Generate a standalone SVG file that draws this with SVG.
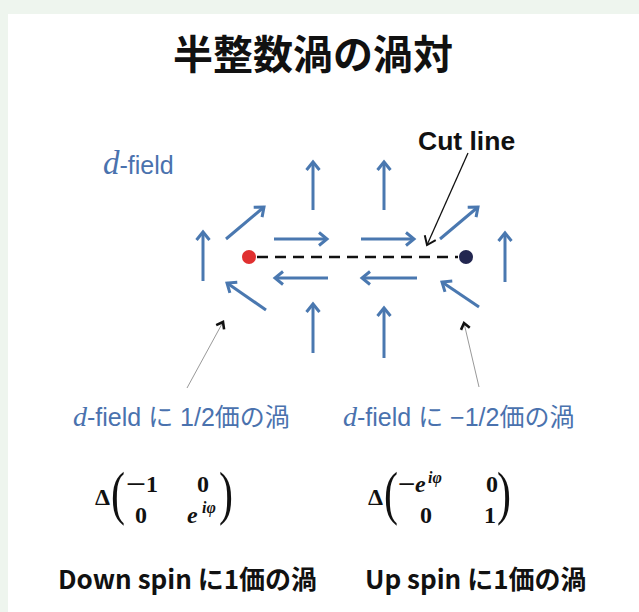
<svg xmlns="http://www.w3.org/2000/svg" width="639" height="612" viewBox="0 0 639 612">
<defs>
<style>
.fa{fill:none;stroke:#4a78b0;stroke-width:3;stroke-linecap:butt;marker-end:url(#ab)}
.bl{fill:#4a72ae;font-family:"Liberation Sans","Noto Sans CJK JP",sans-serif;font-size:25px}
.di{font-family:"Liberation Serif",serif;font-style:italic}
.jp{font-family:"Noto Sans CJK JP",sans-serif}
.bk{fill:#111;font-family:"Noto Sans CJK JP",sans-serif;font-weight:700;font-size:26px}
.m{fill:#111;font-family:"Liberation Serif",serif;font-weight:700;font-size:24px}
.mi{font-style:italic}
.sup{fill:#111;font-family:"Liberation Serif",serif;font-weight:700;font-style:italic;font-size:16px}
.par{fill:#111;font-family:"Liberation Serif",serif;font-size:42px}
</style>
<marker id="ab" markerWidth="16" markerHeight="16" refX="12" refY="8" orient="auto" markerUnits="userSpaceOnUse" overflow="visible">
<path d="M4,1.5 L12,8 L4,14.5" fill="none" stroke="#4a78b0" stroke-width="3"/>
</marker>
<marker id="ak" markerWidth="16" markerHeight="16" refX="12" refY="8" orient="auto" markerUnits="userSpaceOnUse" overflow="visible">
<path d="M4,2 L12,8 L4,14" fill="none" stroke="#111" stroke-width="2"/>
</marker>
<marker id="ak2" markerWidth="12" markerHeight="12" refX="9" refY="6" orient="auto" markerUnits="userSpaceOnUse" overflow="visible">
<path d="M3,1.5 L9,6 L3,10.5" fill="none" stroke="#111" stroke-width="2.6"/>
</marker>
</defs>
<rect x="0" y="0" width="639" height="612" fill="#eef5ee"/>
<rect x="8" y="14" width="631" height="598" fill="#ffffff"/>

<g id="title">
<text x="313" y="69" text-anchor="middle" class="jp" font-weight="700" font-size="40" fill="#111">半整数渦の渦対</text>
</g>

<g id="dfield-label">
<text x="103" y="174" class="bl" font-size="30"><tspan class="di" font-size="33">d</tspan>-field</text>
</g>

<g id="cutline-label">
<text x="418" y="150" font-family="Liberation Sans,sans-serif" font-weight="700" font-size="26.5" fill="#111">Cut line</text>
</g>

<g id="field-arrows">
<line class="fa" x1="313" y1="210" x2="313" y2="162"/>
<line class="fa" x1="384" y1="210" x2="384" y2="162"/>
<line class="fa" x1="226" y1="239" x2="264" y2="207"/>
<line class="fa" x1="203" y1="281" x2="203" y2="232"/>
<line class="fa" x1="274" y1="239" x2="327" y2="239"/>
<line class="fa" x1="361" y1="239" x2="414" y2="239"/>
<line class="fa" x1="328" y1="278" x2="275" y2="278"/>
<line class="fa" x1="417" y1="278" x2="362" y2="278"/>
<line class="fa" x1="266" y1="310" x2="227" y2="283"/>
<line class="fa" x1="479" y1="307" x2="442" y2="282"/>
<line class="fa" x1="440" y1="239" x2="478" y2="207"/>
<line class="fa" x1="313" y1="353" x2="313" y2="304"/>
<line class="fa" x1="384" y1="358" x2="384" y2="308"/>
<line class="fa" x1="505" y1="282" x2="505" y2="233"/>
</g>

<g id="cut">
<line x1="257" y1="257" x2="458" y2="257" stroke="#111" stroke-width="2.5" stroke-dasharray="11,7"/>
</g>

<g id="vortex-plus">
<circle cx="249" cy="257" r="7" fill="#e03030"/>
</g>
<g id="vortex-minus">
<circle cx="466" cy="257" r="7" fill="#222650"/>
</g>

<g id="connectors">
<line x1="468" y1="153" x2="427" y2="245" stroke="#111" stroke-width="1.3" marker-end="url(#ak)"/>
<line x1="187" y1="388" x2="223" y2="322" stroke="#999" stroke-width="1" marker-end="url(#ak2)"/>
<line x1="479" y1="387" x2="464" y2="323" stroke="#999" stroke-width="1" marker-end="url(#ak2)"/>
</g>

<g id="label-left">
<text x="73" y="426" class="bl"><tspan class="di" font-size="28">d</tspan>-field <tspan class="jp">に</tspan> 1/2<tspan class="jp">価の渦</tspan></text>
</g>
<g id="label-right">
<text x="343" y="426" class="bl"><tspan class="di" font-size="28">d</tspan>-field <tspan class="jp">に</tspan> −1/2<tspan class="jp">価の渦</tspan></text>
</g>

<g id="matrix-left">
<text x="95" y="505" class="m">Δ</text>
<text class="par" transform="translate(111,512.6) scale(1,1.4)">(</text>
<text class="m" transform="translate(126,492) scale(1.5,1)">−</text>
<text x="146" y="492" class="m">1</text>
<text x="197" y="492" class="m">0</text>
<text x="135" y="523" class="m">0</text>
<text x="187" y="523" class="m"><tspan class="mi">e</tspan></text>
<text x="202" y="513" class="sup">iφ</text>
<text class="par" transform="translate(219,512.6) scale(1,1.4)">)</text>
</g>

<g id="matrix-right">
<text x="368" y="505" class="m">Δ</text>
<text class="par" transform="translate(384,512.6) scale(1,1.4)">(</text>
<text class="m" transform="translate(398,492) scale(1.3,1)">−</text>
<text x="415" y="492" class="m"><tspan class="mi">e</tspan></text>
<text x="428" y="483" class="sup">iφ</text>
<text x="486" y="492" class="m">0</text>
<text x="420" y="523" class="m">0</text>
<text x="484" y="523" class="m">1</text>
<text class="par" transform="translate(497,512.6) scale(1,1.4)">)</text>
</g>

<g id="caption-left">
<text x="58" y="589" class="bk">Down spin に1価の渦</text>
</g>
<g id="caption-right">
<text x="365" y="589" class="bk">Up spin に1価の渦</text>
</g>
</svg>
